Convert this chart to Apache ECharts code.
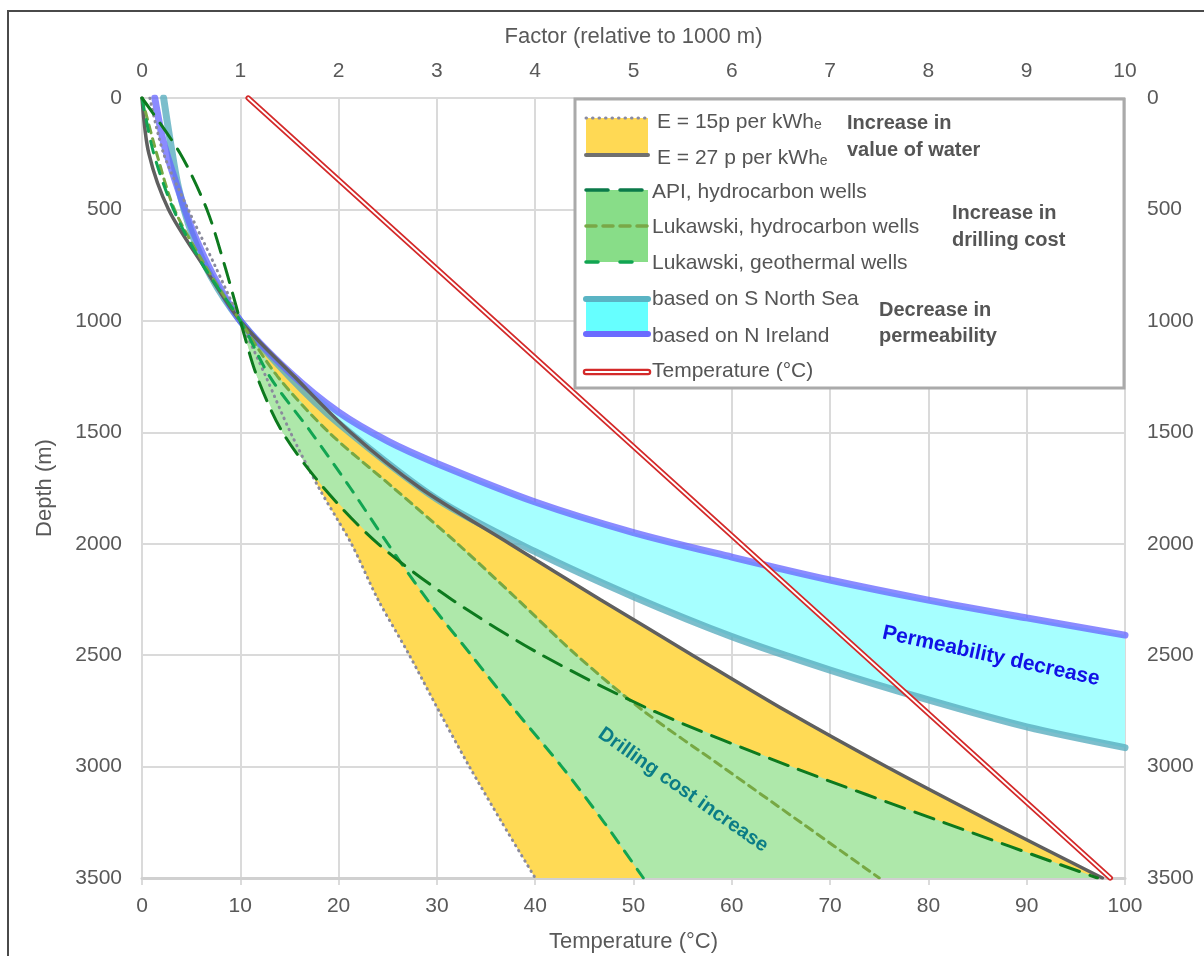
<!DOCTYPE html>
<html>
<head>
<meta charset="utf-8">
<script src="https://cdn.jsdelivr.net/npm/echarts@6/dist/echarts.min.js"></script>
<style>
  html, body { margin: 0; padding: 0; background: #fff; }
  #chart { width: 1204px; height: 956px; }
</style>
</head>
<body>
<div id="chart"></div>
<script>
// depth grid (m) shared by the cost / value curves
var depthGrid = [0, 250, 500, 750, 1000, 1250, 1500, 1750, 2000, 2250, 2500, 2750, 3000, 3250, 3500];

// value of water (factor relative to 1000 m)
var factorE15 = [0.08, 0.22, 0.47, 0.74, 1.0, 1.26, 1.51, 1.8, 2.13, 2.4, 2.72, 3.02, 3.33, 3.66, 4.0];
var factorE27 = [0, 0.07, 0.27, 0.62, 1.0, 1.55, 2.12, 2.83, 3.74, 4.66, 5.6, 6.55, 7.57, 8.65, 9.77];

// drilling cost
var factorAPI = [0, 0.39, 0.66, 0.84, 1.0, 1.17, 1.43, 1.85, 2.4, 3.15, 4.07, 5.2, 6.6, 8.15, 9.72];
var factorLukHC = [0, 0.15, 0.33, 0.64, 1.0, 1.38, 1.9, 2.56, 3.21, 3.82, 4.42, 5.1, 5.9, 6.7, 7.5];
var factorLukGeo = [0, 0.12, 0.32, 0.62, 1.0, 1.3, 1.72, 2.12, 2.5, 2.9, 3.35, 3.8, 4.27, 4.7, 5.1];

// permeability decrease (factor, depth)
var nIrelandFactor = [0.13, 0.22, 0.36, 0.52, 0.73, 1.0, 1.5, 2, 2.5, 3, 4, 5, 6, 7, 8, 9, 10];
var nIrelandDepth  = [0, 200, 400, 600, 800, 1000, 1230, 1410, 1540, 1640, 1813, 1950, 2060, 2163, 2253, 2333, 2410];
var sNorthSeaFactor = [0.22, 0.29, 0.37, 0.5, 0.7, 1.0, 1.5, 2, 3, 4, 5, 6, 7, 8, 9, 10];
var sNorthSeaDepth  = [0, 200, 400, 600, 800, 1000, 1250, 1460, 1800, 2036, 2238, 2417, 2567, 2701, 2822, 2915];

// temperature (°C) against depth
var tempValue = [10.8, 98.5];
var tempDepth = [0, 3500];

function pairs(xs, ys) {
    var out = [];
    for (var i = 0; i < xs.length; i++) out.push([xs[i], ys[i]]);
    return out;
}
function fromDepth(ys) {
    var out = [];
    for (var i = 0; i < depthGrid.length; i++) out.push([ys[i], depthGrid[i]]);
    return out;
}

var e15 = fromDepth(factorE15), e27 = fromDepth(factorE27);
var api = fromDepth(factorAPI), lukHC = fromDepth(factorLukHC), lukGeo = fromDepth(factorLukGeo);
var nIre = pairs(nIrelandFactor, nIrelandDepth), sNs = pairs(sNorthSeaFactor, sNorthSeaDepth);

// fill between two curves (only below 1000 m)
function band(a, b, color, z) {
    return {
        type: 'custom', xAxisIndex: 0, yAxisIndex: 0, silent: true, z: z,
        data: [[0, 0]],
        renderItem: function (params, api2) {
            var pts = [];
            a.forEach(function (p) { pts.push(api2.coord(p)); });
            b.slice().reverse().forEach(function (p) { pts.push(api2.coord(p)); });
            return { type: 'polygon', shape: { points: pts }, style: { fill: color } };
        }
    };
}
function below1000(arr) { return arr.filter(function (p) { return p[1] >= 1000; }); }

function curve(name, data, color, width, dash, z, opacity, xi) {
    return {
        name: name, type: 'line', xAxisIndex: xi || 0, yAxisIndex: 0,
        data: data, showSymbol: false, smooth: 0.3, silent: true, z: z,
        lineStyle: { color: color, width: width, type: dash || 'solid', opacity: opacity || 1, cap: 'round' }
    };
}

var labelStyle = { color: '#595959', fontSize: 21, fontFamily: 'Liberation Sans' };
var nameStyle = { color: '#595959', fontSize: 22, fontFamily: 'Liberation Sans' };

var series = [
    band(below1000(nIre), below1000(sNs), '#a6ffff', 1),
    band(below1000(e15), below1000(e27), '#ffda55', 2),
    band(below1000(api), below1000(lukHC), '#aee8aa', 3),
    band(below1000(api), below1000(lukGeo), '#aee8aa', 3),
    band(below1000(lukGeo), below1000(lukHC), '#aee8aa', 3),
    curve('S North Sea', sNs, '#5aaebf', 7, 'solid', 4, 0.8),
    curve('N Ireland', nIre, '#6464ff', 7, 'solid', 4, 0.75),
    curve('E15', e15, '#8a8a9c', 3, [0.5, 5.5], 5),
    curve('E27', e27, '#5f5f5f', 3.5, 'solid', 5),
    curve('Lukawski HC', lukHC, '#77a843', 3, [8, 6], 6),
    curve('Lukawski geo', lukGeo, '#12a552', 3, [12, 10], 6),
    curve('API', api, '#0d7a1e', 3, [20, 11], 6),
    curve('Temperature', pairs(tempValue, tempDepth), '#d42a2a', 5.5, 'solid', 7, 1, 1),
    curve('Temperature inner', pairs(tempValue, tempDepth), '#ffffff', 1.8, 'solid', 8, 1, 1)
];

var chart = echarts.init(document.getElementById('chart'));

var lx = 586, tx = 652;
var legendText = { fill: '#555555', fontSize: 21, fontFamily: 'Liberation Sans', verticalAlign: 'middle' };
var boldText = { fill: '#555555', fontSize: 20, fontWeight: 'bold', fontFamily: 'Liberation Sans', verticalAlign: 'middle' };
var subE = { rich: { e: { fontSize: 14, verticalAlign: 'bottom', fill: '#555555' } } };
function txt(x, y, s, st) {
    return { type: 'text', x: x, y: y, z: 20, style: Object.assign({ text: s }, st) };
}
function hline(y, color, width, dash) {
    return { type: 'line', z: 21, shape: { x1: lx, y1: y, x2: lx + 62, y2: y },
        style: { stroke: color, lineWidth: width, lineDash: dash || null, lineCap: 'round' } };
}

var graphics = [
    // outer frame
    { type: 'rect', z: 30, shape: { x: 8, y: 11, width: 1400, height: 1200 }, style: { fill: null, stroke: '#4a4a4a', lineWidth: 2 } },
    // legend box
    { type: 'rect', z: 19, shape: { x: 575, y: 99, width: 549, height: 289 }, style: { fill: '#ffffff', stroke: '#aaaaaa', lineWidth: 3 } },
    { type: 'rect', z: 20, shape: { x: lx, y: 118, width: 62, height: 37 }, style: { fill: '#ffd954' } },
    hline(118, '#8a8aa0', 3, [0.5, 6]),
    hline(155, '#707070', 4),
    { type: 'rect', z: 20, shape: { x: lx, y: 190, width: 62, height: 72 }, style: { fill: '#88dd88' } },
    hline(190, '#0b7a4a', 3.5, [22, 12]),
    hline(226, '#79a847', 3.5, [10, 7]),
    hline(262, '#12a552', 3.5, [12, 22]),
    { type: 'rect', z: 20, shape: { x: lx, y: 299, width: 62, height: 35 }, style: { fill: '#66ffff' } },
    hline(299, '#5ab4c4', 6),
    hline(334, '#6b6bff', 6),
    hline(372, '#d42a2a', 6.5),
    hline(372, '#ffffff', 2),
    txt(657, 122, 'E = 15p per kWh{e|e}', Object.assign({}, legendText, subE)),
    txt(657, 158, 'E = 27 p per kWh{e|e}', Object.assign({}, legendText, subE)),
    txt(847, 123, 'Increase in', boldText),
    txt(847, 150, 'value of water', boldText),
    txt(tx, 192, 'API, hydrocarbon wells', legendText),
    txt(tx, 227, 'Lukawski, hydrocarbon wells', legendText),
    txt(tx, 263, 'Lukawski, geothermal wells', legendText),
    txt(952, 213, 'Increase in', boldText),
    txt(952, 240, 'drilling cost', boldText),
    txt(tx, 299, 'based on S North Sea', legendText),
    txt(tx, 336, 'based on N Ireland', legendText),
    txt(879, 310, 'Decrease in', boldText),
    txt(879, 336, 'permeability', boldText),
    txt(tx, 371, 'Temperature (°C)', legendText),
    // annotations
    { type: 'text', x: 991, y: 656, rotation: -0.213, z: 15,
      style: { text: 'Permeability decrease', align: 'center', verticalAlign: 'middle', fill: '#1010e6', fontSize: 21, fontWeight: 'bold', fontFamily: 'Liberation Sans' } },
    { type: 'text', x: 683, y: 790, rotation: -0.61, z: 15,
      style: { text: 'Drilling cost increase', align: 'center', verticalAlign: 'middle', fill: '#0b7d86', fontSize: 20, fontWeight: 'bold', fontFamily: 'Liberation Sans' } }
];

function plain(v) { return String(v); }

var option = {
    animation: false,
    backgroundColor: '#ffffff',
    grid: { left: 142, right: 79, top: 98, bottom: 78, containLabel: false, outerBoundsMode: 'none' },
    xAxis: [
        {
            type: 'value', position: 'top', min: 0, max: 10, interval: 1,
            name: 'Factor (relative to 1000 m)', nameLocation: 'middle', nameGap: 50, nameTextStyle: nameStyle,
            axisLine: { show: false }, axisTick: { show: false },
            axisLabel: Object.assign({ margin: 16, formatter: plain }, labelStyle),
            splitLine: { show: true, lineStyle: { color: '#dadada', width: 2 } }
        },
        {
            type: 'value', position: 'bottom', min: 0, max: 100, interval: 10,
            name: 'Temperature (°C)', nameLocation: 'middle', nameGap: 53, nameTextStyle: nameStyle,
            axisLine: { show: true, onZero: false, lineStyle: { color: '#d0d0d0', width: 3 } },
            axisTick: { show: true, length: 7, lineStyle: { color: '#d0d0d0', width: 1.5 } },
            axisLabel: Object.assign({ margin: 18, formatter: plain }, labelStyle),
            splitLine: { show: false }
        }
    ],
    yAxis: [
        {
            type: 'value', inverse: true, min: 0, max: 3500, interval: 500, position: 'left',
            name: 'Depth (m)', nameLocation: 'middle', nameGap: 86, nameTextStyle: nameStyle,
            axisLine: { show: false }, axisTick: { show: false },
            axisLabel: Object.assign({ margin: 20, formatter: plain }, labelStyle),
            splitLine: { show: true, lineStyle: { color: '#dadada', width: 2 } }
        },
        {
            type: 'value', inverse: true, min: 0, max: 3500, interval: 500, position: 'right',
            axisLine: { show: false }, axisTick: { show: false },
            axisLabel: Object.assign({ margin: 22, formatter: plain }, labelStyle),
            splitLine: { show: false }
        }
    ],
    series: series,
    graphic: graphics
};
chart.setOption(option);
</script>
</body>
</html>
